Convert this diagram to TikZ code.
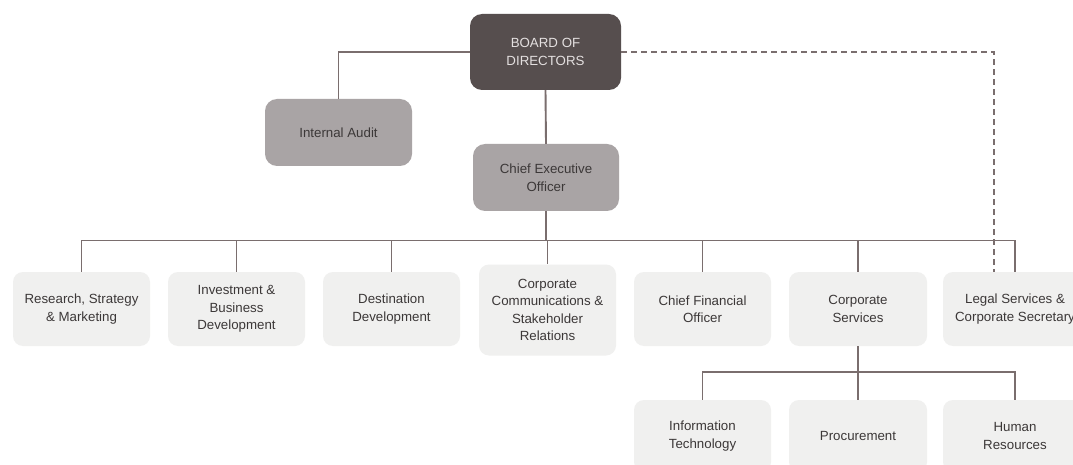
\documentclass[tikz,border=0pt]{standalone}
\usepackage{fontspec}
\setmainfont{Liberation Sans}
\definecolor{boardfill}{HTML}{564E4E}
\definecolor{boardtext}{HTML}{E4E0E0}
\definecolor{midfill}{HTML}{A9A4A5}
\definecolor{lightfill}{HTML}{F0F0EF}
\definecolor{txt}{HTML}{3C3838}
\definecolor{conn}{HTML}{7A6E6E}
\begin{document}
\begin{tikzpicture}[x=1pt,y=-1pt,
  box/.style={rectangle, rounded corners=10pt, align=center, inner sep=2pt,
    font=\fontsize{13.3}{17.5}\selectfont, text=txt},
  topbox/.style={box, fill=boardfill, text=boardtext, minimum width=151pt, minimum height=76pt, rounded corners=12pt},
  midbox/.style={box, fill=midfill, minimum width=147pt, minimum height=67pt, rounded corners=12pt},
  unitbox/.style={box, fill=lightfill, minimum width=137pt, minimum height=74pt},
  link/.style={draw=conn, line width=1.9pt},
  dlink/.style={draw=conn, line width=1.7pt, dash pattern=on 6pt off 4pt}]
\useasboundingbox (0,0) rectangle (1073,465);
\fill[white] (0,0) rectangle (1073,465);
% top level
\node[topbox] (board) at (545.5,52) {BOARD OF\\DIRECTORS};
\node[midbox] (audit) at (338.5,132.5) {Internal Audit};
\node[midbox, minimum width=146pt] (ceo) at (546,177.5) {Chief Executive\\Officer};
% units
\node[unitbox] (rsm) at (81.5,309) {Research, Strategy\\\& Marketing};
\node[unitbox] (ibd) at (236.5,309) {Investment \&\\Business\\Development};
\node[unitbox] (dd) at (391.5,309) {Destination\\Development};
\node[unitbox, minimum height=91pt] (ccs) at (547.5,310) {Corporate\\Communications \&\\Stakeholder\\Relations};
\node[unitbox] (cfo) at (702.5,309) {Chief Financial\\Officer};
\node[unitbox, minimum width=138pt] (cs) at (858,309) {Corporate\\Services};
\node[unitbox, minimum width=144pt] (legal) at (1015,309) {Legal Services \&\\Corporate Secretary};
% sub-units
\node[unitbox, minimum height=72pt] (it) at (702.5,436) {Information\\Technology};
\node[unitbox, minimum height=72pt, minimum width=138pt] (proc) at (858,436) {Procurement};
\node[unitbox, minimum height=72pt, minimum width=144pt] (hr) at (1015,436) {Human\\Resources};
% connectors
\coordinate (bus) at (546,240.5);
\coordinate (subbus) at (858,372);
\coordinate (dend) at (994,272);
\draw[link] (board.west) -| (audit.north);
\draw[link] (board.south) -- (ceo.north);
\draw[link] (ceo.south) -- (bus);
\foreach \n in {rsm,ibd,dd,ccs,cfo,cs,legal} \draw[link] (bus) -| (\n.north);
\draw[link] (cs.south) -- (subbus);
\foreach \n in {it,proc,hr} \draw[link] (subbus) -| (\n.north);
\draw[dlink] (board.east) -| (dend);
\end{tikzpicture}
\end{document}
